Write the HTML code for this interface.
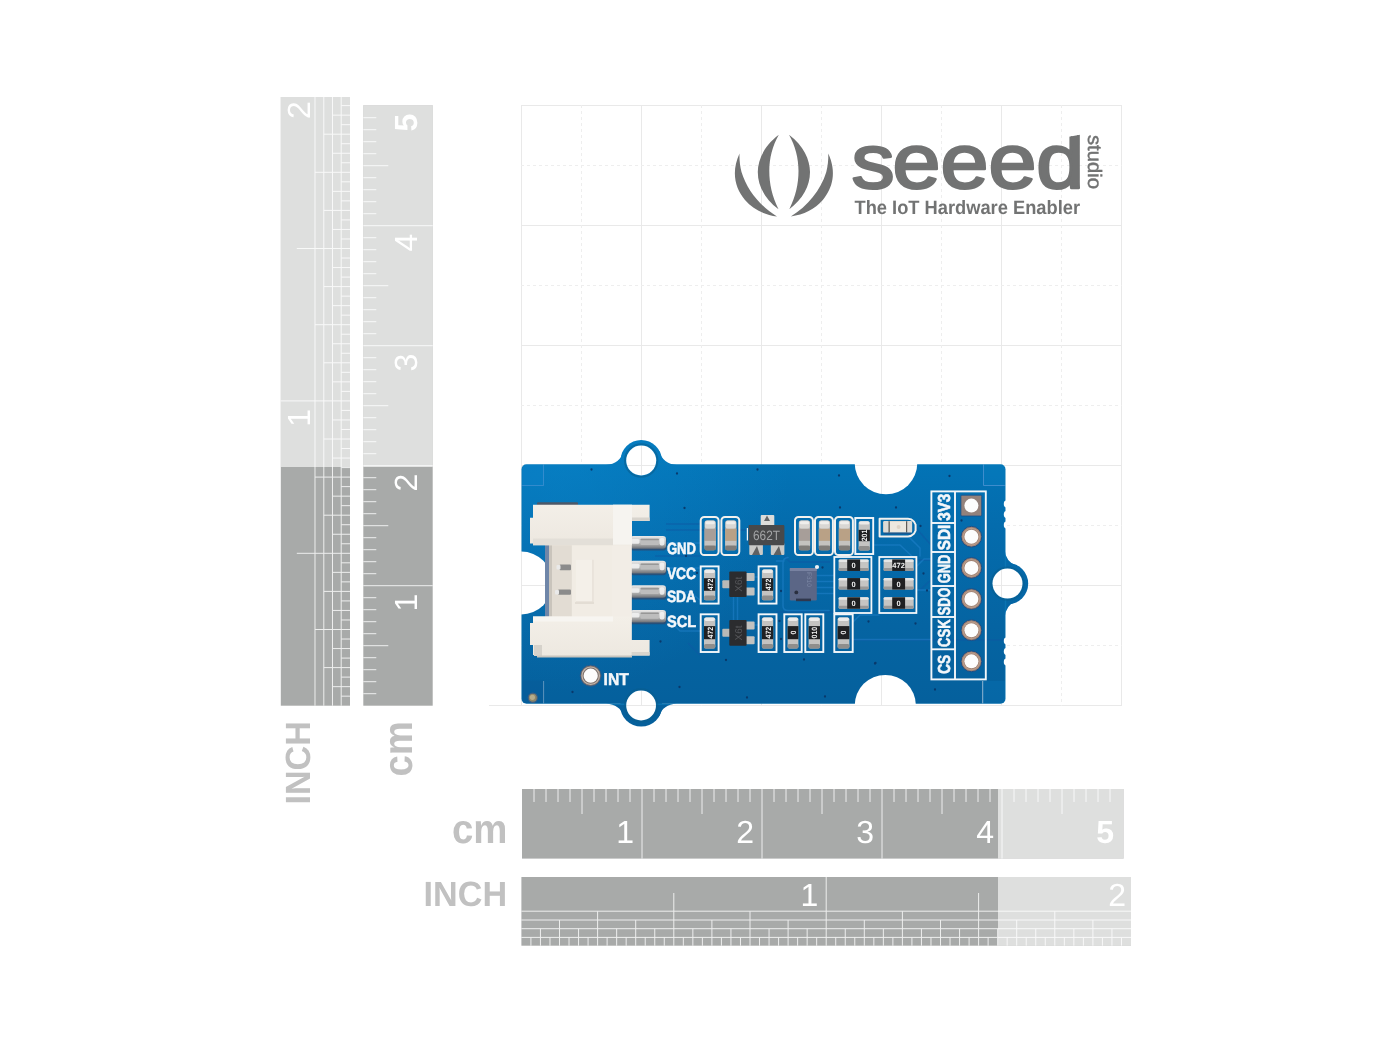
<!DOCTYPE html>
<html lang="en"><head><meta charset="utf-8"><title>Seeed Grove sensor - dimensions</title>
<style>
html,body{margin:0;padding:0;background:#fff;}
body{width:1400px;height:1050px;overflow:hidden;font-family:"Liberation Sans",sans-serif;}
svg{display:block;will-change:transform;}
</style></head><body>
<svg width="1400" height="1050" viewBox="0 0 1400 1050" text-rendering="geometricPrecision">
<rect width="1400" height="1050" fill="#fff"/>
<g id="grid" fill="none">
<line x1="521.5" y1="105" x2="521.5" y2="706" stroke="#e9e9e9" stroke-width="1"/>
<line x1="521" y1="105.5" x2="1122" y2="105.5" stroke="#e9e9e9" stroke-width="1"/>
<line x1="641.5" y1="105" x2="641.5" y2="706" stroke="#e9e9e9" stroke-width="1"/>
<line x1="521" y1="225.5" x2="1122" y2="225.5" stroke="#e9e9e9" stroke-width="1"/>
<line x1="761.5" y1="105" x2="761.5" y2="706" stroke="#e9e9e9" stroke-width="1"/>
<line x1="521" y1="345.5" x2="1122" y2="345.5" stroke="#e9e9e9" stroke-width="1"/>
<line x1="881.5" y1="105" x2="881.5" y2="706" stroke="#e9e9e9" stroke-width="1"/>
<line x1="521" y1="465.5" x2="1122" y2="465.5" stroke="#e9e9e9" stroke-width="1"/>
<line x1="1001.5" y1="105" x2="1001.5" y2="706" stroke="#e9e9e9" stroke-width="1"/>
<line x1="521" y1="585.5" x2="1122" y2="585.5" stroke="#e9e9e9" stroke-width="1"/>
<line x1="1121.5" y1="105" x2="1121.5" y2="706" stroke="#e9e9e9" stroke-width="1"/>
<line x1="489" y1="705.5" x2="1122" y2="705.5" stroke="#e9e9e9" stroke-width="1"/>
<line x1="581.5" y1="105" x2="581.5" y2="706" stroke="#eeeeee" stroke-width="1" stroke-dasharray="3 3"/>
<line x1="521" y1="165.5" x2="1122" y2="165.5" stroke="#eeeeee" stroke-width="1" stroke-dasharray="3 3"/>
<line x1="701.5" y1="105" x2="701.5" y2="706" stroke="#eeeeee" stroke-width="1" stroke-dasharray="3 3"/>
<line x1="521" y1="285.5" x2="1122" y2="285.5" stroke="#eeeeee" stroke-width="1" stroke-dasharray="3 3"/>
<line x1="821.5" y1="105" x2="821.5" y2="706" stroke="#eeeeee" stroke-width="1" stroke-dasharray="3 3"/>
<line x1="521" y1="405.5" x2="1122" y2="405.5" stroke="#eeeeee" stroke-width="1" stroke-dasharray="3 3"/>
<line x1="941.5" y1="105" x2="941.5" y2="706" stroke="#eeeeee" stroke-width="1" stroke-dasharray="3 3"/>
<line x1="521" y1="525.5" x2="1122" y2="525.5" stroke="#eeeeee" stroke-width="1" stroke-dasharray="3 3"/>
<line x1="1061.5" y1="105" x2="1061.5" y2="706" stroke="#eeeeee" stroke-width="1" stroke-dasharray="3 3"/>
<line x1="521" y1="645.5" x2="1122" y2="645.5" stroke="#eeeeee" stroke-width="1" stroke-dasharray="3 3"/>
</g>
<g id="logo" fill="#727373">
<path d="M778.8 134.8 C764 146 757.8 160 757.8 172 C757.8 186 765 199 778.5 209.3 C772 196 769.3 184 769.3 171 C769.3 158 772.5 146 778.8 134.8 Z"/>
<path d="M789 134.8 C803.8 146 810 160 810 172 C810 186 802.8 199 789.3 209.3 C795.8 196 798.5 184 798.5 171 C798.5 158 795.3 146 789 134.8 Z"/>
<path d="M739.5 153.5 C731 172 735 188 745 200 C753 209.5 764 214.5 777 216.5 C760 206 747 190 741.5 172 C740 166 739.3 160 739.5 153.5 Z"/>
<path d="M828.3 153.5 C836.8 172 832.8 188 822.8 200 C814.8 209.5 803.8 214.5 790.8 216.5 C807.8 206 820.8 190 826.3 172 C827.8 166 828.5 160 828.3 153.5 Z"/>
<clipPath id="wm"><path d="M840 120 L1066 120 L1066 137.2 L1083 134.2 L1083 200 L840 200 Z"/></clipPath>
<g clip-path="url(#wm)"><text transform="scale(1.12 1)" x="760.36 796.79 839.64 882.50 925.18" y="188.2" font-family="'Liberation Sans', sans-serif" font-size="77.0" stroke="#727373" stroke-width="2.5" stroke-linejoin="round">seeed</text></g>
<text transform="translate(1087.5 135) rotate(90)" font-family="'Liberation Sans', sans-serif" font-size="19.5" stroke="#727373" stroke-width="0.45" textLength="54" lengthAdjust="spacingAndGlyphs">studio</text>
<text x="854.5" y="214" font-family="'Liberation Sans', sans-serif" font-weight="700" font-size="19.4" textLength="225.5" lengthAdjust="spacingAndGlyphs">The IoT Hardware Enabler</text>
</g>
<g id="rulers">
<g>
<rect x="522" y="789" width="601.5999999999999" height="69.60000000000002" fill="#a8aaa9"/>
<g stroke="#fff" stroke-width="1" opacity="0.8">
<line x1="534.0" y1="789" x2="534.0" y2="802"/>
<line x1="546.0" y1="789" x2="546.0" y2="802"/>
<line x1="558.0" y1="789" x2="558.0" y2="802"/>
<line x1="570.0" y1="789" x2="570.0" y2="802"/>
<line x1="582.0" y1="789" x2="582.0" y2="814"/>
<line x1="594.0" y1="789" x2="594.0" y2="802"/>
<line x1="606.0" y1="789" x2="606.0" y2="802"/>
<line x1="618.0" y1="789" x2="618.0" y2="802"/>
<line x1="630.0" y1="789" x2="630.0" y2="802"/>
<line x1="642.0" y1="789" x2="642.0" y2="858.6"/>
<line x1="654.0" y1="789" x2="654.0" y2="802"/>
<line x1="666.0" y1="789" x2="666.0" y2="802"/>
<line x1="678.0" y1="789" x2="678.0" y2="802"/>
<line x1="690.0" y1="789" x2="690.0" y2="802"/>
<line x1="702.0" y1="789" x2="702.0" y2="814"/>
<line x1="714.0" y1="789" x2="714.0" y2="802"/>
<line x1="726.0" y1="789" x2="726.0" y2="802"/>
<line x1="738.0" y1="789" x2="738.0" y2="802"/>
<line x1="750.0" y1="789" x2="750.0" y2="802"/>
<line x1="762.0" y1="789" x2="762.0" y2="858.6"/>
<line x1="774.0" y1="789" x2="774.0" y2="802"/>
<line x1="786.0" y1="789" x2="786.0" y2="802"/>
<line x1="798.0" y1="789" x2="798.0" y2="802"/>
<line x1="810.0" y1="789" x2="810.0" y2="802"/>
<line x1="822.0" y1="789" x2="822.0" y2="814"/>
<line x1="834.0" y1="789" x2="834.0" y2="802"/>
<line x1="846.0" y1="789" x2="846.0" y2="802"/>
<line x1="858.0" y1="789" x2="858.0" y2="802"/>
<line x1="870.0" y1="789" x2="870.0" y2="802"/>
<line x1="882.0" y1="789" x2="882.0" y2="858.6"/>
<line x1="894.0" y1="789" x2="894.0" y2="802"/>
<line x1="906.0" y1="789" x2="906.0" y2="802"/>
<line x1="918.0" y1="789" x2="918.0" y2="802"/>
<line x1="930.0" y1="789" x2="930.0" y2="802"/>
<line x1="942.0" y1="789" x2="942.0" y2="814"/>
<line x1="954.0" y1="789" x2="954.0" y2="802"/>
<line x1="966.0" y1="789" x2="966.0" y2="802"/>
<line x1="978.0" y1="789" x2="978.0" y2="802"/>
<line x1="990.0" y1="789" x2="990.0" y2="802"/>
<line x1="1002.0" y1="789" x2="1002.0" y2="858.6"/>
<line x1="1014.0" y1="789" x2="1014.0" y2="802"/>
<line x1="1026.0" y1="789" x2="1026.0" y2="802"/>
<line x1="1038.0" y1="789" x2="1038.0" y2="802"/>
<line x1="1050.0" y1="789" x2="1050.0" y2="802"/>
<line x1="1062.0" y1="789" x2="1062.0" y2="814"/>
<line x1="1074.0" y1="789" x2="1074.0" y2="802"/>
<line x1="1086.0" y1="789" x2="1086.0" y2="802"/>
<line x1="1098.0" y1="789" x2="1098.0" y2="802"/>
<line x1="1110.0" y1="789" x2="1110.0" y2="802"/>
</g>
<rect x="998" y="789" width="125.59999999999991" height="69.60000000000002" fill="#fff" opacity="0.62"/>
<text x="634" y="843" text-anchor="end" fill="#fff" font-family="'Liberation Sans', sans-serif" font-size="32" >1</text>
<text x="754" y="843" text-anchor="end" fill="#fff" font-family="'Liberation Sans', sans-serif" font-size="32" >2</text>
<text x="874" y="843" text-anchor="end" fill="#fff" font-family="'Liberation Sans', sans-serif" font-size="32" >3</text>
<text x="994" y="843" text-anchor="end" fill="#fff" font-family="'Liberation Sans', sans-serif" font-size="32" >4</text>
<text x="1114" y="843" text-anchor="end" fill="#fff" font-family="'Liberation Sans', sans-serif" font-size="32" font-weight="700">5</text>
</g><g>
<rect x="521.4" y="877" width="609.6" height="68.70000000000005" fill="#a8aaa9"/>
<g stroke="#fff" stroke-width="1" opacity="0.8">
<line x1="521.4" y1="911.2" x2="1131" y2="911.2"/>
<line x1="521.4" y1="920.0" x2="1131" y2="920.0"/>
<line x1="521.4" y1="928.7" x2="1131" y2="928.7"/>
<line x1="521.4" y1="937.4" x2="1131" y2="937.4"/>
<line x1="530.92" y1="937.4" x2="530.92" y2="945.7"/>
<line x1="540.45" y1="928.7" x2="540.45" y2="945.7"/>
<line x1="549.98" y1="937.4" x2="549.98" y2="945.7"/>
<line x1="559.50" y1="920.0" x2="559.50" y2="945.7"/>
<line x1="569.02" y1="937.4" x2="569.02" y2="945.7"/>
<line x1="578.55" y1="928.7" x2="578.55" y2="945.7"/>
<line x1="588.07" y1="937.4" x2="588.07" y2="945.7"/>
<line x1="597.60" y1="911.2" x2="597.60" y2="945.7"/>
<line x1="607.12" y1="937.4" x2="607.12" y2="945.7"/>
<line x1="616.65" y1="928.7" x2="616.65" y2="945.7"/>
<line x1="626.17" y1="937.4" x2="626.17" y2="945.7"/>
<line x1="635.70" y1="920.0" x2="635.70" y2="945.7"/>
<line x1="645.23" y1="937.4" x2="645.23" y2="945.7"/>
<line x1="654.75" y1="928.7" x2="654.75" y2="945.7"/>
<line x1="664.27" y1="937.4" x2="664.27" y2="945.7"/>
<line x1="673.80" y1="893.0" x2="673.80" y2="945.7"/>
<line x1="683.33" y1="937.4" x2="683.33" y2="945.7"/>
<line x1="692.85" y1="928.7" x2="692.85" y2="945.7"/>
<line x1="702.38" y1="937.4" x2="702.38" y2="945.7"/>
<line x1="711.90" y1="920.0" x2="711.90" y2="945.7"/>
<line x1="721.42" y1="937.4" x2="721.42" y2="945.7"/>
<line x1="730.95" y1="928.7" x2="730.95" y2="945.7"/>
<line x1="740.48" y1="937.4" x2="740.48" y2="945.7"/>
<line x1="750.00" y1="911.2" x2="750.00" y2="945.7"/>
<line x1="759.52" y1="937.4" x2="759.52" y2="945.7"/>
<line x1="769.05" y1="928.7" x2="769.05" y2="945.7"/>
<line x1="778.58" y1="937.4" x2="778.58" y2="945.7"/>
<line x1="788.10" y1="920.0" x2="788.10" y2="945.7"/>
<line x1="797.62" y1="937.4" x2="797.62" y2="945.7"/>
<line x1="807.15" y1="928.7" x2="807.15" y2="945.7"/>
<line x1="816.67" y1="937.4" x2="816.67" y2="945.7"/>
<line x1="826.20" y1="877.0" x2="826.20" y2="945.7"/>
<line x1="835.72" y1="937.4" x2="835.72" y2="945.7"/>
<line x1="845.25" y1="928.7" x2="845.25" y2="945.7"/>
<line x1="854.77" y1="937.4" x2="854.77" y2="945.7"/>
<line x1="864.30" y1="920.0" x2="864.30" y2="945.7"/>
<line x1="873.83" y1="937.4" x2="873.83" y2="945.7"/>
<line x1="883.35" y1="928.7" x2="883.35" y2="945.7"/>
<line x1="892.88" y1="937.4" x2="892.88" y2="945.7"/>
<line x1="902.40" y1="911.2" x2="902.40" y2="945.7"/>
<line x1="911.92" y1="937.4" x2="911.92" y2="945.7"/>
<line x1="921.45" y1="928.7" x2="921.45" y2="945.7"/>
<line x1="930.97" y1="937.4" x2="930.97" y2="945.7"/>
<line x1="940.50" y1="920.0" x2="940.50" y2="945.7"/>
<line x1="950.02" y1="937.4" x2="950.02" y2="945.7"/>
<line x1="959.55" y1="928.7" x2="959.55" y2="945.7"/>
<line x1="969.08" y1="937.4" x2="969.08" y2="945.7"/>
<line x1="978.60" y1="893.0" x2="978.60" y2="945.7"/>
<line x1="988.12" y1="937.4" x2="988.12" y2="945.7"/>
<line x1="997.65" y1="928.7" x2="997.65" y2="945.7"/>
<line x1="1007.17" y1="937.4" x2="1007.17" y2="945.7"/>
<line x1="1016.70" y1="920.0" x2="1016.70" y2="945.7"/>
<line x1="1026.22" y1="937.4" x2="1026.22" y2="945.7"/>
<line x1="1035.75" y1="928.7" x2="1035.75" y2="945.7"/>
<line x1="1045.28" y1="937.4" x2="1045.28" y2="945.7"/>
<line x1="1054.80" y1="911.2" x2="1054.80" y2="945.7"/>
<line x1="1064.33" y1="937.4" x2="1064.33" y2="945.7"/>
<line x1="1073.85" y1="928.7" x2="1073.85" y2="945.7"/>
<line x1="1083.38" y1="937.4" x2="1083.38" y2="945.7"/>
<line x1="1092.90" y1="920.0" x2="1092.90" y2="945.7"/>
<line x1="1102.42" y1="937.4" x2="1102.42" y2="945.7"/>
<line x1="1111.95" y1="928.7" x2="1111.95" y2="945.7"/>
<line x1="1121.47" y1="937.4" x2="1121.47" y2="945.7"/>
</g>
<rect x="998" y="877" width="133" height="68.70000000000005" fill="#fff" opacity="0.62"/>
<text x="818.2" y="906" text-anchor="end" fill="#fff" font-family="'Liberation Sans', sans-serif" font-size="32">1</text>
<text x="1126.0" y="906" text-anchor="end" fill="#fff" font-family="'Liberation Sans', sans-serif" font-size="32">2</text>
</g>
<g transform="translate(363.3 705.7) rotate(-90)">
<rect x="0" y="0" width="600.5" height="69.4" fill="#a8aaa9"/>
<g stroke="#fff" stroke-width="1" opacity="0.8">
<line x1="12.0" y1="0" x2="12.0" y2="13"/>
<line x1="24.0" y1="0" x2="24.0" y2="13"/>
<line x1="36.0" y1="0" x2="36.0" y2="13"/>
<line x1="48.0" y1="0" x2="48.0" y2="13"/>
<line x1="60.0" y1="0" x2="60.0" y2="25"/>
<line x1="72.0" y1="0" x2="72.0" y2="13"/>
<line x1="84.0" y1="0" x2="84.0" y2="13"/>
<line x1="96.0" y1="0" x2="96.0" y2="13"/>
<line x1="108.0" y1="0" x2="108.0" y2="13"/>
<line x1="120.0" y1="0" x2="120.0" y2="69.4"/>
<line x1="132.0" y1="0" x2="132.0" y2="13"/>
<line x1="144.0" y1="0" x2="144.0" y2="13"/>
<line x1="156.0" y1="0" x2="156.0" y2="13"/>
<line x1="168.0" y1="0" x2="168.0" y2="13"/>
<line x1="180.0" y1="0" x2="180.0" y2="25"/>
<line x1="192.0" y1="0" x2="192.0" y2="13"/>
<line x1="204.0" y1="0" x2="204.0" y2="13"/>
<line x1="216.0" y1="0" x2="216.0" y2="13"/>
<line x1="228.0" y1="0" x2="228.0" y2="13"/>
<line x1="240.0" y1="0" x2="240.0" y2="69.4"/>
<line x1="252.0" y1="0" x2="252.0" y2="13"/>
<line x1="264.0" y1="0" x2="264.0" y2="13"/>
<line x1="276.0" y1="0" x2="276.0" y2="13"/>
<line x1="288.0" y1="0" x2="288.0" y2="13"/>
<line x1="300.0" y1="0" x2="300.0" y2="25"/>
<line x1="312.0" y1="0" x2="312.0" y2="13"/>
<line x1="324.0" y1="0" x2="324.0" y2="13"/>
<line x1="336.0" y1="0" x2="336.0" y2="13"/>
<line x1="348.0" y1="0" x2="348.0" y2="13"/>
<line x1="360.0" y1="0" x2="360.0" y2="69.4"/>
<line x1="372.0" y1="0" x2="372.0" y2="13"/>
<line x1="384.0" y1="0" x2="384.0" y2="13"/>
<line x1="396.0" y1="0" x2="396.0" y2="13"/>
<line x1="408.0" y1="0" x2="408.0" y2="13"/>
<line x1="420.0" y1="0" x2="420.0" y2="25"/>
<line x1="432.0" y1="0" x2="432.0" y2="13"/>
<line x1="444.0" y1="0" x2="444.0" y2="13"/>
<line x1="456.0" y1="0" x2="456.0" y2="13"/>
<line x1="468.0" y1="0" x2="468.0" y2="13"/>
<line x1="480.0" y1="0" x2="480.0" y2="69.4"/>
<line x1="492.0" y1="0" x2="492.0" y2="13"/>
<line x1="504.0" y1="0" x2="504.0" y2="13"/>
<line x1="516.0" y1="0" x2="516.0" y2="13"/>
<line x1="528.0" y1="0" x2="528.0" y2="13"/>
<line x1="540.0" y1="0" x2="540.0" y2="25"/>
<line x1="552.0" y1="0" x2="552.0" y2="13"/>
<line x1="564.0" y1="0" x2="564.0" y2="13"/>
<line x1="576.0" y1="0" x2="576.0" y2="13"/>
<line x1="588.0" y1="0" x2="588.0" y2="13"/>
</g>
<rect x="238.7" y="0" width="361.8" height="69.4" fill="#fff" opacity="0.62"/>
<text x="112" y="54" text-anchor="end" fill="#fff" font-family="'Liberation Sans', sans-serif" font-size="32" >1</text>
<text x="232" y="54" text-anchor="end" fill="#fff" font-family="'Liberation Sans', sans-serif" font-size="32" >2</text>
<text x="352" y="54" text-anchor="end" fill="#fff" font-family="'Liberation Sans', sans-serif" font-size="32" >3</text>
<text x="472" y="54" text-anchor="end" fill="#fff" font-family="'Liberation Sans', sans-serif" font-size="32" >4</text>
<text x="592" y="54" text-anchor="end" fill="#fff" font-family="'Liberation Sans', sans-serif" font-size="32" font-weight="700">5</text>
</g>
<g transform="translate(280.8 705.7) rotate(-90)">
<rect x="0" y="0" width="608.7" height="69.2" fill="#a8aaa9"/>
<g stroke="#fff" stroke-width="1" opacity="0.8">
<line x1="0" y1="34.2" x2="608.7" y2="34.2"/>
<line x1="0" y1="43.0" x2="608.7" y2="43.0"/>
<line x1="0" y1="51.7" x2="608.7" y2="51.7"/>
<line x1="0" y1="60.4" x2="608.7" y2="60.4"/>
<line x1="9.53" y1="60.4" x2="9.53" y2="69.2"/>
<line x1="19.05" y1="51.7" x2="19.05" y2="69.2"/>
<line x1="28.58" y1="60.4" x2="28.58" y2="69.2"/>
<line x1="38.10" y1="43.0" x2="38.10" y2="69.2"/>
<line x1="47.62" y1="60.4" x2="47.62" y2="69.2"/>
<line x1="57.15" y1="51.7" x2="57.15" y2="69.2"/>
<line x1="66.67" y1="60.4" x2="66.67" y2="69.2"/>
<line x1="76.20" y1="34.2" x2="76.20" y2="69.2"/>
<line x1="85.73" y1="60.4" x2="85.73" y2="69.2"/>
<line x1="95.25" y1="51.7" x2="95.25" y2="69.2"/>
<line x1="104.78" y1="60.4" x2="104.78" y2="69.2"/>
<line x1="114.30" y1="43.0" x2="114.30" y2="69.2"/>
<line x1="123.83" y1="60.4" x2="123.83" y2="69.2"/>
<line x1="133.35" y1="51.7" x2="133.35" y2="69.2"/>
<line x1="142.88" y1="60.4" x2="142.88" y2="69.2"/>
<line x1="152.40" y1="16.0" x2="152.40" y2="69.2"/>
<line x1="161.93" y1="60.4" x2="161.93" y2="69.2"/>
<line x1="171.45" y1="51.7" x2="171.45" y2="69.2"/>
<line x1="180.97" y1="60.4" x2="180.97" y2="69.2"/>
<line x1="190.50" y1="43.0" x2="190.50" y2="69.2"/>
<line x1="200.03" y1="60.4" x2="200.03" y2="69.2"/>
<line x1="209.55" y1="51.7" x2="209.55" y2="69.2"/>
<line x1="219.08" y1="60.4" x2="219.08" y2="69.2"/>
<line x1="228.60" y1="34.2" x2="228.60" y2="69.2"/>
<line x1="238.12" y1="60.4" x2="238.12" y2="69.2"/>
<line x1="247.65" y1="51.7" x2="247.65" y2="69.2"/>
<line x1="257.18" y1="60.4" x2="257.18" y2="69.2"/>
<line x1="266.70" y1="43.0" x2="266.70" y2="69.2"/>
<line x1="276.23" y1="60.4" x2="276.23" y2="69.2"/>
<line x1="285.75" y1="51.7" x2="285.75" y2="69.2"/>
<line x1="295.28" y1="60.4" x2="295.28" y2="69.2"/>
<line x1="304.80" y1="0.0" x2="304.80" y2="69.2"/>
<line x1="314.32" y1="60.4" x2="314.32" y2="69.2"/>
<line x1="323.85" y1="51.7" x2="323.85" y2="69.2"/>
<line x1="333.38" y1="60.4" x2="333.38" y2="69.2"/>
<line x1="342.90" y1="43.0" x2="342.90" y2="69.2"/>
<line x1="352.43" y1="60.4" x2="352.43" y2="69.2"/>
<line x1="361.95" y1="51.7" x2="361.95" y2="69.2"/>
<line x1="371.48" y1="60.4" x2="371.48" y2="69.2"/>
<line x1="381.00" y1="34.2" x2="381.00" y2="69.2"/>
<line x1="390.53" y1="60.4" x2="390.53" y2="69.2"/>
<line x1="400.05" y1="51.7" x2="400.05" y2="69.2"/>
<line x1="409.57" y1="60.4" x2="409.57" y2="69.2"/>
<line x1="419.10" y1="43.0" x2="419.10" y2="69.2"/>
<line x1="428.62" y1="60.4" x2="428.62" y2="69.2"/>
<line x1="438.15" y1="51.7" x2="438.15" y2="69.2"/>
<line x1="447.68" y1="60.4" x2="447.68" y2="69.2"/>
<line x1="457.20" y1="16.0" x2="457.20" y2="69.2"/>
<line x1="466.73" y1="60.4" x2="466.73" y2="69.2"/>
<line x1="476.25" y1="51.7" x2="476.25" y2="69.2"/>
<line x1="485.78" y1="60.4" x2="485.78" y2="69.2"/>
<line x1="495.30" y1="43.0" x2="495.30" y2="69.2"/>
<line x1="504.83" y1="60.4" x2="504.83" y2="69.2"/>
<line x1="514.35" y1="51.7" x2="514.35" y2="69.2"/>
<line x1="523.88" y1="60.4" x2="523.88" y2="69.2"/>
<line x1="533.40" y1="34.2" x2="533.40" y2="69.2"/>
<line x1="542.93" y1="60.4" x2="542.93" y2="69.2"/>
<line x1="552.45" y1="51.7" x2="552.45" y2="69.2"/>
<line x1="561.98" y1="60.4" x2="561.98" y2="69.2"/>
<line x1="571.50" y1="43.0" x2="571.50" y2="69.2"/>
<line x1="581.02" y1="60.4" x2="581.02" y2="69.2"/>
<line x1="590.55" y1="51.7" x2="590.55" y2="69.2"/>
<line x1="600.08" y1="60.4" x2="600.08" y2="69.2"/>
</g>
<rect x="238.7" y="0" width="370.00000000000006" height="69.2" fill="#fff" opacity="0.62"/>
<text x="296.8" y="29" text-anchor="end" fill="#fff" font-family="'Liberation Sans', sans-serif" font-size="32">1</text>
<text x="604.6" y="29" text-anchor="end" fill="#fff" font-family="'Liberation Sans', sans-serif" font-size="32">2</text>
</g>
<text x="452" y="843" fill="#c1c1c1" font-family="'Liberation Sans', sans-serif" font-weight="700" font-size="41" textLength="55.5" lengthAdjust="spacingAndGlyphs">cm</text>
<text x="423.6" y="906.3" fill="#c1c1c1" font-family="'Liberation Sans', sans-serif" font-weight="700" font-size="35" textLength="83.5" lengthAdjust="spacingAndGlyphs">INCH</text>
<text transform="translate(411.8 776.5) rotate(-90)" fill="#c1c1c1" font-family="'Liberation Sans', sans-serif" font-weight="700" font-size="41" textLength="55.5" lengthAdjust="spacingAndGlyphs">cm</text>
<text transform="translate(310.3 804.6) rotate(-90)" fill="#c1c1c1" font-family="'Liberation Sans', sans-serif" font-weight="700" font-size="35" textLength="83.5" lengthAdjust="spacingAndGlyphs">INCH</text>
</g>
<defs>
<linearGradient id="pcb" gradientUnits="userSpaceOnUse" x1="0" y1="440" x2="0" y2="726"><stop offset="0" stop-color="#0276b9"/><stop offset="0.3" stop-color="#046cad"/><stop offset="0.65" stop-color="#0564a2"/><stop offset="1" stop-color="#055f9b"/></linearGradient>
<radialGradient id="pcbhl" gradientUnits="userSpaceOnUse" cx="560" cy="462" r="230"><stop offset="0" stop-color="#0a86cc" stop-opacity="0.55"/><stop offset="1" stop-color="#0a86cc" stop-opacity="0"/></radialGradient>
<linearGradient id="pin" x1="0" y1="0" x2="0" y2="1"><stop offset="0" stop-color="#e9e9e9"/><stop offset="0.25" stop-color="#d2d2d2"/><stop offset="0.7" stop-color="#a5a5a5"/><stop offset="1" stop-color="#6b6f76"/></linearGradient>
<linearGradient id="conn" x1="0" y1="0" x2="0" y2="1"><stop offset="0" stop-color="#f3efe8"/><stop offset="1" stop-color="#ede8e0"/></linearGradient>
<mask id="bm" maskUnits="userSpaceOnUse" x="500" y="430" width="560" height="310">
<rect x="521.5" y="464.2" width="484" height="239.6" rx="5" fill="#fff"/>
<circle cx="641.2" cy="460.5" r="20.6" fill="#fff"/>
<path d="M606 465 Q620 464 623.5 451 L659.3 451 Q662.8 464 676.8 465 Z" fill="#fff"/>
<circle cx="641.2" cy="705.6" r="21" fill="#fff"/>
<path d="M606 703.5 Q620 704.5 623.5 716 L659.3 716 Q662.8 704.5 676.8 703.5 Z" fill="#fff"/>
<circle cx="1007.6" cy="583.6" r="20.6" fill="#fff"/>
<path d="M1004.5 549 Q1005.5 562 1017 566 L1017 601 Q1005.5 605 1004.5 618 Z" fill="#fff"/>
<circle cx="641.2" cy="460.5" r="15" fill="#000"/>
<circle cx="641.1" cy="705.5" r="14.9" fill="#000"/>
<circle cx="1007.5" cy="583.6" r="15" fill="#000"/>
<circle cx="886" cy="463" r="31.3" fill="#000"/>
<circle cx="885.3" cy="705.5" r="30.6" fill="#000"/>
<circle cx="521.2" cy="583" r="31.4" fill="#000"/>
<ellipse cx="1006.4" cy="504" rx="2.6" ry="3.4" fill="#000"/>
<ellipse cx="1006.4" cy="514.5" rx="2.6" ry="3.4" fill="#000"/>
<ellipse cx="1006.4" cy="525" rx="2.6" ry="3.4" fill="#000"/>
<ellipse cx="1006.4" cy="641" rx="2.6" ry="3.4" fill="#000"/>
<ellipse cx="1006.4" cy="651.5" rx="2.6" ry="3.4" fill="#000"/>
<ellipse cx="1006.4" cy="662" rx="2.6" ry="3.4" fill="#000"/>
</mask>
</defs>
<g id="board">
<g mask="url(#bm)">
<rect x="500" y="430" width="560" height="310" fill="url(#pcb)"/>
<rect x="500" y="430" width="560" height="310" fill="url(#pcbhl)"/>
<path d="M521 485.5 H543.5 V464" fill="none" stroke="#4d93d3" stroke-width="1" opacity="0.8"/>
<rect x="521" y="464" width="22.5" height="21.5" fill="#0a80c8" opacity="0.45"/>
<rect x="521" y="680.5" width="22.5" height="24" fill="#085a98" opacity="0.5"/>
<rect x="983.5" y="464" width="22.5" height="21.5" fill="#0a80c0" opacity="0.4"/>
<path d="M983.5 464 V485.5 H1006" fill="none" stroke="#4d93d3" stroke-width="1" opacity="0.8"/>
<rect x="982.5" y="681" width="23" height="23.5" fill="#0a76b8" opacity="0.35"/>
<line x1="982.7" y1="681" x2="982.7" y2="703.5" stroke="#c6d4e4" stroke-width="0.9" opacity="0.8"/>
<line x1="543.6" y1="681" x2="543.6" y2="703.5" stroke="#c6d4e4" stroke-width="0.9" opacity="0.5"/>
<g fill="none" stroke="#0f5aa4" stroke-width="1.6" opacity="0.55">
<path d="M666 524 H700 M666 530 H746 M655 556 H700 M784 556 L790 562 H830 M776 612 H834 M700 655 L688 643 M850 640 H1006 M920 590 L931 580 M917 560 H931 M915 527 L931 545"/>
</g>
<g fill="none" stroke="#2b8ad6" stroke-width="1.5" opacity="0.42" stroke-linecap="round" stroke-linejoin="round">
<path d="M816.5 575.5 H834 M816.5 581.5 H834 M816.5 587.5 H834 M816.5 593.5 H834 M788 557.5 Q783 558 783 563 V606 Q783 610.5 788 610.5 H829 M776.5 561 H784 M853 639.5 H931 M853 622 L860 615 H879 M917 590 H931 M917 566 L924 559 H931 M909 537 L920 548 V556 M873 545 H900 L916 560 M746.6 577 H758 M746.6 625 H758 M737.5 597 V620 M733.5 597 V620 M666 543 H700 M666 568 H700 M666 617 L680 631 H700 M666 592 H690 L700 600"/>
</g>
<g fill="#0a3566" opacity="0.9">
<circle cx="591.5" cy="469.5" r="1.15"/>
<circle cx="677" cy="473.5" r="1.15"/>
<circle cx="684.5" cy="508" r="1.15"/>
<circle cx="686" cy="556" r="1.15"/>
<circle cx="697" cy="573" r="1.15"/>
<circle cx="757.5" cy="469.5" r="1.15"/>
<circle cx="839" cy="475.5" r="1.15"/>
<circle cx="840" cy="507.5" r="1.15"/>
<circle cx="822.5" cy="567.5" r="1.15"/>
<circle cx="781" cy="591" r="1.15"/>
<circle cx="779.5" cy="621" r="1.15"/>
<circle cx="781" cy="639" r="1.15"/>
<circle cx="726" cy="660" r="1.15"/>
<circle cx="804" cy="659.5" r="1.15"/>
<circle cx="875" cy="663.5" r="1.15"/>
<circle cx="747" cy="697.5" r="1.15"/>
<circle cx="825" cy="696.5" r="1.15"/>
<circle cx="572.5" cy="692" r="1.15"/>
<circle cx="660.5" cy="641.5" r="1.15"/>
<circle cx="679.5" cy="687" r="1.15"/>
<circle cx="949.5" cy="476" r="1.15"/>
<circle cx="896" cy="507.5" r="1.15"/>
<circle cx="920.5" cy="526" r="1.15"/>
<circle cx="923.5" cy="573.5" r="1.15"/>
<circle cx="927" cy="590.5" r="1.15"/>
<circle cx="868.5" cy="621.5" r="1.15"/>
<circle cx="915.5" cy="623.5" r="1.15"/>
<circle cx="875.5" cy="663" r="1.15"/>
<circle cx="935" cy="689.5" r="1.15"/>
<circle cx="961.5" cy="520.5" r="1.15"/>
</g>
<rect x="521.5" y="464" width="484" height="240.3" rx="5" fill="none" stroke="#0d7ab8" stroke-width="1.5" opacity="0.7"/>
<circle cx="641.2" cy="460.5" r="16.2" fill="none" stroke="#0a5c8c" stroke-width="2" opacity="0.55"/>
<circle cx="641.1" cy="705.5" r="16.2" fill="none" stroke="#0a5c8c" stroke-width="2" opacity="0.55"/>
<circle cx="1007.5" cy="583.6" r="16.2" fill="none" stroke="#0a5c8c" stroke-width="2" opacity="0.55"/>
</g>
<circle cx="532.8" cy="697.8" r="4.6" fill="#8f8668" stroke="#3b5f86" stroke-width="1.2"/>
<circle cx="532.4" cy="697.3" r="2.6" fill="#b5ac8c"/>
<circle cx="590.7" cy="675.7" r="10.6" fill="#7d706a" stroke="#1f5a92" stroke-width="1"/>
<circle cx="590.7" cy="675.7" r="8.7" fill="none" stroke="#c4b8b0" stroke-width="1.2"/>
<circle cx="590.7" cy="675.7" r="7.1" fill="#fdfdfd"/>
<text x="603.6" y="684.5" fill="#f4f7fa" stroke="#f4f7fa" stroke-width="0.5" font-family="'Liberation Sans', sans-serif" font-weight="700" font-size="17.2" textLength="25.2" lengthAdjust="spacingAndGlyphs">INT</text>
<g id="conn">
<rect x="545" y="543" width="8" height="75" fill="#6f86a8"/>
<rect x="537" y="502.2" width="41" height="3" rx="1" fill="#6b4a45" opacity="0.7"/>
<rect x="630" y="536.9" width="36.6" height="13.6" rx="3.4" fill="#2f4a6e" opacity="0.8"/>
<rect x="630" y="536.1" width="36" height="12.6" rx="3.2" fill="url(#pin)"/>
<rect x="640.5" y="538.7" width="18.5" height="6.2" rx="1.2" fill="#bdbdbd"/>
<rect x="640.5" y="538.7" width="18.5" height="1.6" rx="0.8" fill="#8d8d8d" opacity="0.8"/>
<rect x="631" y="539.1" width="8.5" height="4.6" rx="1.5" fill="#f1f1f1" opacity="0.9"/>
<rect x="659.5" y="538.1" width="5" height="7.5" rx="2" fill="#f4f4f4" opacity="0.85"/>
<rect x="630" y="561.5999999999999" width="36.6" height="13.6" rx="3.4" fill="#2f4a6e" opacity="0.8"/>
<rect x="630" y="560.8" width="36" height="12.6" rx="3.2" fill="url(#pin)"/>
<rect x="640.5" y="563.4" width="18.5" height="6.2" rx="1.2" fill="#bdbdbd"/>
<rect x="640.5" y="563.4" width="18.5" height="1.6" rx="0.8" fill="#8d8d8d" opacity="0.8"/>
<rect x="631" y="563.8" width="8.5" height="4.6" rx="1.5" fill="#f1f1f1" opacity="0.9"/>
<rect x="659.5" y="562.8" width="5" height="7.5" rx="2" fill="#f4f4f4" opacity="0.85"/>
<rect x="630" y="586.0" width="36.6" height="13.6" rx="3.4" fill="#2f4a6e" opacity="0.8"/>
<rect x="630" y="585.2" width="36" height="12.6" rx="3.2" fill="url(#pin)"/>
<rect x="640.5" y="587.8000000000001" width="18.5" height="6.2" rx="1.2" fill="#bdbdbd"/>
<rect x="640.5" y="587.8000000000001" width="18.5" height="1.6" rx="0.8" fill="#8d8d8d" opacity="0.8"/>
<rect x="631" y="588.2" width="8.5" height="4.6" rx="1.5" fill="#f1f1f1" opacity="0.9"/>
<rect x="659.5" y="587.2" width="5" height="7.5" rx="2" fill="#f4f4f4" opacity="0.85"/>
<rect x="630" y="610.6999999999999" width="36.6" height="13.6" rx="3.4" fill="#2f4a6e" opacity="0.8"/>
<rect x="630" y="609.9" width="36" height="12.6" rx="3.2" fill="url(#pin)"/>
<rect x="640.5" y="612.5" width="18.5" height="6.2" rx="1.2" fill="#bdbdbd"/>
<rect x="640.5" y="612.5" width="18.5" height="1.6" rx="0.8" fill="#8d8d8d" opacity="0.8"/>
<rect x="631" y="612.9" width="8.5" height="4.6" rx="1.5" fill="#f1f1f1" opacity="0.9"/>
<rect x="659.5" y="611.9" width="5" height="7.5" rx="2" fill="#f4f4f4" opacity="0.85"/>
<rect x="549" y="543" width="24" height="74" fill="#e2dcd3"/>
<rect x="549" y="543" width="3" height="74" fill="#c9c4bc"/>
<rect x="559.5" y="564.6" width="11.5" height="5.6" rx="1" fill="#8b8b8b"/>
<rect x="558" y="589.6" width="13" height="5.2" rx="1" fill="#8b8b8b"/>
<rect x="556.5" y="565" width="4" height="4.6" rx="1" fill="#e9e9e9"/>
<rect x="555" y="590" width="4" height="4.4" rx="1" fill="#e9e9e9"/>
<rect x="571.8" y="540" width="59.8" height="80" fill="#f1ece4"/>
<rect x="612" y="520" width="19.6" height="122" fill="#f2ede6"/>
<rect x="575.9" y="559.8" width="17" height="42.2" fill="#f4f0e9"/>
<path d="M575.9 602 H592.9 V559.8" fill="none" stroke="#e6e0d7" stroke-width="1.4"/>
<rect x="575" y="602" width="19" height="2" fill="#e3ddd4"/>
<path d="M533 504.7 H649.6 V520.9 H631.6 V545.2 H533 V543.6 H530 V517.7 H533 Z" fill="url(#conn)"/>
<rect x="533" y="538.5" width="80" height="6.7" fill="#e3dfd8"/>
<rect x="631.6" y="517.5" width="18" height="3.4" fill="#d8d4cd"/>
<rect x="613" y="504.7" width="19" height="40" fill="#f6f4f0"/>
<path d="M533 616.5 H631.6 V640 H649.6 V655.5 H631.6 V657 H537 V655 H533 V645 H530 V623 H533 Z" fill="url(#conn)"/>
<rect x="533" y="616.5" width="80" height="5" fill="#f7f5f1"/>
<rect x="631.6" y="652" width="18" height="3.5" fill="#d8d4cd"/>
<rect x="534" y="645" width="8" height="11" fill="#d6d2cb"/>
<rect x="537" y="655.5" width="95" height="2" fill="#c9c5be"/>
</g>
<text x="666.9" y="554.1" fill="#f4f7fa" stroke="#f4f7fa" stroke-width="0.55" font-family="'Liberation Sans', sans-serif" font-weight="700" font-size="16.3" textLength="29.2" lengthAdjust="spacingAndGlyphs">GND</text>
<text x="666.9" y="578.8" fill="#f4f7fa" stroke="#f4f7fa" stroke-width="0.55" font-family="'Liberation Sans', sans-serif" font-weight="700" font-size="16.3" textLength="29.2" lengthAdjust="spacingAndGlyphs">VCC</text>
<text x="666.9" y="602.1" fill="#f4f7fa" stroke="#f4f7fa" stroke-width="0.55" font-family="'Liberation Sans', sans-serif" font-weight="700" font-size="16.3" textLength="29.2" lengthAdjust="spacingAndGlyphs">SDA</text>
<text x="666.9" y="627.1" fill="#f4f7fa" stroke="#f4f7fa" stroke-width="0.55" font-family="'Liberation Sans', sans-serif" font-weight="700" font-size="16.3" textLength="29.2" lengthAdjust="spacingAndGlyphs">SCL</text>
<rect x="700.7" y="517" width="17.9" height="38" rx="3.6" fill="none" stroke="#f3f1ee" stroke-width="2"/>
<rect x="704.5" y="520.6" width="11.299999999999999" height="29.6" rx="2.2" fill="#b7b4b1"/>
<rect x="704.9" y="520.6" width="10.499999999999998" height="8.2" rx="2.2" fill="#d9d7d4"/>
<rect x="705.5" y="521.2" width="9.299999999999999" height="3" rx="1.5" fill="#efeeec"/>
<rect x="704.5" y="545" width="11.299999999999999" height="5.4" rx="2" fill="#7f7c79"/>
<rect x="704.5" y="540.5" width="11.299999999999999" height="5" fill="#c4c2bf"/>
<rect x="704.5" y="528.8" width="11.299999999999999" height="12" fill="#a79e99"/>
<rect x="721.4" y="517" width="17.9" height="38" rx="3.6" fill="none" stroke="#f3f1ee" stroke-width="2"/>
<rect x="725.1999999999999" y="520.6" width="11.299999999999999" height="29.6" rx="2.2" fill="#b7b4b1"/>
<rect x="725.5999999999999" y="520.6" width="10.499999999999998" height="8.2" rx="2.2" fill="#d9d7d4"/>
<rect x="726.1999999999999" y="521.2" width="9.299999999999999" height="3" rx="1.5" fill="#efeeec"/>
<rect x="725.1999999999999" y="545" width="11.299999999999999" height="5.4" rx="2" fill="#7f7c79"/>
<rect x="725.1999999999999" y="540.5" width="11.299999999999999" height="5" fill="#c4c2bf"/>
<rect x="725.1999999999999" y="528.8" width="11.299999999999999" height="12" fill="#b9a186"/>
<line x1="747.4" y1="528" x2="747.4" y2="540.5" stroke="#f4f7fa" stroke-width="1.2"/>
<rect x="760.7" y="515" width="13.6" height="12" rx="1" fill="#dcdcda"/>
<rect x="749.3" y="543" width="13.6" height="12" rx="1" fill="#c9c9c7"/>
<rect x="770.8" y="543" width="13.6" height="12" rx="1" fill="#c9c9c7"/>
<path d="M752 555 L757 546 L760 555 Z M773.5 555 L779 546 L781.5 555 Z M764 521 L767 515.5 L770 521 Z" fill="#3c3d40" opacity="0.75"/>
<rect x="748.6" y="525" width="35.8" height="20.3" rx="1" fill="#48494b"/>
<text x="766.5" y="540.2" text-anchor="middle" fill="#a3a4a6" font-family="'Liberation Sans', sans-serif" font-size="13.5" textLength="27" lengthAdjust="spacingAndGlyphs">662T</text>
<rect x="795" y="517" width="17.9" height="38" rx="3.6" fill="none" stroke="#f3f1ee" stroke-width="2"/>
<rect x="798.8" y="520.6" width="11.299999999999999" height="29.6" rx="2.2" fill="#b7b4b1"/>
<rect x="799.1999999999999" y="520.6" width="10.499999999999998" height="8.2" rx="2.2" fill="#d9d7d4"/>
<rect x="799.8" y="521.2" width="9.299999999999999" height="3" rx="1.5" fill="#efeeec"/>
<rect x="798.8" y="545" width="11.299999999999999" height="5.4" rx="2" fill="#7f7c79"/>
<rect x="798.8" y="540.5" width="11.299999999999999" height="5" fill="#c4c2bf"/>
<rect x="798.8" y="528.8" width="11.299999999999999" height="12" fill="#a79e99"/>
<rect x="815" y="517" width="17.9" height="38" rx="3.6" fill="none" stroke="#f3f1ee" stroke-width="2"/>
<rect x="818.8" y="520.6" width="11.299999999999999" height="29.6" rx="2.2" fill="#b7b4b1"/>
<rect x="819.1999999999999" y="520.6" width="10.499999999999998" height="8.2" rx="2.2" fill="#d9d7d4"/>
<rect x="819.8" y="521.2" width="9.299999999999999" height="3" rx="1.5" fill="#efeeec"/>
<rect x="818.8" y="545" width="11.299999999999999" height="5.4" rx="2" fill="#7f7c79"/>
<rect x="818.8" y="540.5" width="11.299999999999999" height="5" fill="#c4c2bf"/>
<rect x="818.8" y="528.8" width="11.299999999999999" height="12" fill="#b9a186"/>
<rect x="835" y="517" width="17.9" height="38" rx="3.6" fill="none" stroke="#f3f1ee" stroke-width="2"/>
<rect x="838.8" y="520.6" width="11.299999999999999" height="29.6" rx="2.2" fill="#b7b4b1"/>
<rect x="839.1999999999999" y="520.6" width="10.499999999999998" height="8.2" rx="2.2" fill="#d9d7d4"/>
<rect x="839.8" y="521.2" width="9.299999999999999" height="3" rx="1.5" fill="#efeeec"/>
<rect x="838.8" y="545" width="11.299999999999999" height="5.4" rx="2" fill="#7f7c79"/>
<rect x="838.8" y="540.5" width="11.299999999999999" height="5" fill="#c4c2bf"/>
<rect x="838.8" y="528.8" width="11.299999999999999" height="12" fill="#b9a186"/>
<rect x="855.3" y="518" width="17.9" height="36" fill="none" stroke="#f4f7fa" stroke-width="1.9"/>
<rect x="858.5999999999999" y="521.2" width="11.299999999999999" height="29.4" rx="1.8" fill="#c4c3c1"/>
<rect x="859.0999999999999" y="521.2" width="10.299999999999999" height="3.4" rx="1.6" fill="#ecebea"/>
<rect x="858.5999999999999" y="546" width="11.299999999999999" height="4.6" rx="1.6" fill="#8f8e8c"/>
<rect x="858.5999999999999" y="529.8" width="11.299999999999999" height="11.399999999999999" fill="#202123"/>
<text transform="translate(867.1 535.5) rotate(-90)" text-anchor="middle" fill="#f4f4f4" font-family="'Liberation Sans', sans-serif" font-weight="700" font-size="7.6" textLength="11.7" lengthAdjust="spacingAndGlyphs">201</text>
<path d="M879.6 518.8 H908 Q911.5 518.8 914 521.6 L915.6 524.6 V530.6 L914 533.6 Q911.5 536.4 908 536.4 H879.6 Z" fill="none" stroke="#f3f1ee" stroke-width="2" stroke-linejoin="round"/>
<rect x="883" y="521" width="29.2" height="11.6" rx="1.6" fill="#b9b6b0"/>
<rect x="883.4" y="521" width="5" height="11.6" rx="1.2" fill="#dddbd6"/>
<rect x="907" y="521" width="5" height="11.6" rx="1.2" fill="#dddbd6"/>
<rect x="889.6" y="521.3" width="16.6" height="11" fill="#ece8df"/>
<rect x="888.6" y="521.3" width="1.2" height="11" fill="#5f5c58"/>
<rect x="906" y="521.3" width="1.2" height="11" fill="#5f5c58"/>
<circle cx="898.6" cy="527" r="2" fill="#ddd3c6"/>
<rect x="884" y="532.6" width="27" height="1.6" fill="#274f80" opacity="0.7"/>
<rect x="700.7" y="566.4" width="17.9" height="37.200000000000045" fill="none" stroke="#f4f7fa" stroke-width="1.9"/>
<rect x="704.0" y="569.6" width="11.299999999999999" height="30.600000000000044" rx="1.8" fill="#c4c3c1"/>
<rect x="704.5" y="569.6" width="10.299999999999999" height="3.4" rx="1.6" fill="#ecebea"/>
<rect x="704.0" y="595.6" width="11.299999999999999" height="4.6" rx="1.6" fill="#8f8e8c"/>
<rect x="704.0" y="578.1999999999999" width="11.299999999999999" height="12.600000000000044" fill="#202123"/>
<text transform="translate(712.6 584.5) rotate(-90)" text-anchor="middle" fill="#f4f4f4" font-family="'Liberation Sans', sans-serif" font-weight="700" font-size="7.6" textLength="11.7" lengthAdjust="spacingAndGlyphs">472</text>
<rect x="722.3" y="580.2" width="9" height="8" rx="1" fill="#b9b9b7"/>
<rect x="744.6" y="572.9" width="10" height="8" rx="1" fill="#c2c2c0"/>
<rect x="744.6" y="587.5" width="10" height="8" rx="1" fill="#c2c2c0"/>
<rect x="729.3" y="571.4" width="17.300000000000068" height="25.600000000000023" rx="1" fill="#2b2c2f"/>
<text transform="translate(741.6 584.2) rotate(-90)" text-anchor="middle" fill="#55565a" font-family="'Liberation Sans', sans-serif" font-size="10">X6t</text>
<rect x="758.6" y="566.4" width="17.9" height="37.200000000000045" fill="none" stroke="#f4f7fa" stroke-width="1.9"/>
<rect x="761.9" y="569.6" width="11.299999999999999" height="30.600000000000044" rx="1.8" fill="#c4c3c1"/>
<rect x="762.4" y="569.6" width="10.299999999999999" height="3.4" rx="1.6" fill="#ecebea"/>
<rect x="761.9" y="595.6" width="11.299999999999999" height="4.6" rx="1.6" fill="#8f8e8c"/>
<rect x="761.9" y="578.1999999999999" width="11.299999999999999" height="12.600000000000044" fill="#202123"/>
<text transform="translate(770.5 584.5) rotate(-90)" text-anchor="middle" fill="#f4f4f4" font-family="'Liberation Sans', sans-serif" font-weight="700" font-size="7.6" textLength="11.7" lengthAdjust="spacingAndGlyphs">472</text>
<rect x="789.8" y="568" width="27" height="32.4" rx="1.2" fill="#5b6686"/>
<rect x="789.8" y="568" width="27" height="3" fill="#7f8aa8" opacity="0.8"/>
<rect x="796" y="598.6" width="15" height="2.6" fill="#30374d"/>
<circle cx="796.3" cy="592.4" r="1.9" fill="#2a2f3f"/>
<text transform="translate(806.5 572) rotate(90)" fill="#7d88a6" font-family="'Liberation Sans', sans-serif" font-size="6.5">F310</text>
<circle cx="817" cy="567" r="2.1" fill="#eef1f5"/>
<rect x="834.3" y="557" width="37.1" height="56" fill="none" stroke="#f4f7fa" stroke-width="1.8"/>
<rect x="879.3" y="557" width="37.1" height="56" fill="none" stroke="#f4f7fa" stroke-width="1.8"/>
<rect x="838.5999999999999" y="559.45" width="30.100000000000023" height="11.5" rx="1.5" fill="#c6c5c3"/>
<rect x="838.5999999999999" y="559.45" width="30.100000000000023" height="2.5" rx="1.2" fill="#e6e6e5"/>
<rect x="838.5999999999999" y="567.95" width="30.100000000000023" height="3" rx="1.2" fill="#9a9998"/>
<rect x="847.1999999999999" y="559.45" width="12.900000000000023" height="11.5" fill="#1f2022"/>
<text x="853.6" y="567.9" text-anchor="middle" fill="#f2f2f2" font-family="'Liberation Sans', sans-serif" font-weight="700" font-size="7.5">0</text>
<rect x="838.5999999999999" y="578.05" width="30.100000000000023" height="11.5" rx="1.5" fill="#c6c5c3"/>
<rect x="838.5999999999999" y="578.05" width="30.100000000000023" height="2.5" rx="1.2" fill="#e6e6e5"/>
<rect x="838.5999999999999" y="586.55" width="30.100000000000023" height="3" rx="1.2" fill="#9a9998"/>
<rect x="847.1999999999999" y="578.05" width="12.900000000000023" height="11.5" fill="#1f2022"/>
<text x="853.6" y="586.5" text-anchor="middle" fill="#f2f2f2" font-family="'Liberation Sans', sans-serif" font-weight="700" font-size="7.5">0</text>
<rect x="838.5999999999999" y="597.25" width="30.100000000000023" height="11.5" rx="1.5" fill="#c6c5c3"/>
<rect x="838.5999999999999" y="597.25" width="30.100000000000023" height="2.5" rx="1.2" fill="#e6e6e5"/>
<rect x="838.5999999999999" y="605.75" width="30.100000000000023" height="3" rx="1.2" fill="#9a9998"/>
<rect x="847.1999999999999" y="597.25" width="12.900000000000023" height="11.5" fill="#1f2022"/>
<text x="853.6" y="605.7" text-anchor="middle" fill="#f2f2f2" font-family="'Liberation Sans', sans-serif" font-weight="700" font-size="7.5">0</text>
<rect x="883.5999999999999" y="559.45" width="30.100000000000023" height="11.5" rx="1.5" fill="#c6c5c3"/>
<rect x="883.5999999999999" y="559.45" width="30.100000000000023" height="2.5" rx="1.2" fill="#e6e6e5"/>
<rect x="883.5999999999999" y="567.95" width="30.100000000000023" height="3" rx="1.2" fill="#9a9998"/>
<rect x="892.1999999999999" y="559.45" width="12.900000000000023" height="11.5" fill="#1f2022"/>
<text x="898.6" y="567.9" text-anchor="middle" fill="#f2f2f2" font-family="'Liberation Sans', sans-serif" font-weight="700" font-size="7.5">472</text>
<rect x="883.5999999999999" y="578.05" width="30.100000000000023" height="11.5" rx="1.5" fill="#c6c5c3"/>
<rect x="883.5999999999999" y="578.05" width="30.100000000000023" height="2.5" rx="1.2" fill="#e6e6e5"/>
<rect x="883.5999999999999" y="586.55" width="30.100000000000023" height="3" rx="1.2" fill="#9a9998"/>
<rect x="892.1999999999999" y="578.05" width="12.900000000000023" height="11.5" fill="#1f2022"/>
<text x="898.6" y="586.5" text-anchor="middle" fill="#f2f2f2" font-family="'Liberation Sans', sans-serif" font-weight="700" font-size="7.5">0</text>
<rect x="883.5999999999999" y="597.25" width="30.100000000000023" height="11.5" rx="1.5" fill="#c6c5c3"/>
<rect x="883.5999999999999" y="597.25" width="30.100000000000023" height="2.5" rx="1.2" fill="#e6e6e5"/>
<rect x="883.5999999999999" y="605.75" width="30.100000000000023" height="3" rx="1.2" fill="#9a9998"/>
<rect x="892.1999999999999" y="597.25" width="12.900000000000023" height="11.5" fill="#1f2022"/>
<text x="898.6" y="605.7" text-anchor="middle" fill="#f2f2f2" font-family="'Liberation Sans', sans-serif" font-weight="700" font-size="7.5">0</text>
<rect x="700.7" y="614.3" width="17.9" height="37.700000000000045" fill="none" stroke="#f4f7fa" stroke-width="1.9"/>
<rect x="704.0" y="617.5" width="11.299999999999999" height="31.100000000000044" rx="1.8" fill="#c4c3c1"/>
<rect x="704.5" y="617.5" width="10.299999999999999" height="3.4" rx="1.6" fill="#ecebea"/>
<rect x="704.0" y="644" width="11.299999999999999" height="4.6" rx="1.6" fill="#8f8e8c"/>
<rect x="704.0" y="626.0999999999999" width="11.299999999999999" height="13.100000000000044" fill="#202123"/>
<text transform="translate(712.6 632.6) rotate(-90)" text-anchor="middle" fill="#f4f4f4" font-family="'Liberation Sans', sans-serif" font-weight="700" font-size="7.6" textLength="11.7" lengthAdjust="spacingAndGlyphs">472</text>
<rect x="722.3" y="628.85" width="9" height="8" rx="1" fill="#b9b9b7"/>
<rect x="744.6" y="621.5" width="10" height="8" rx="1" fill="#c2c2c0"/>
<rect x="744.6" y="636.2" width="10" height="8" rx="1" fill="#c2c2c0"/>
<rect x="729.3" y="620" width="17.300000000000068" height="25.700000000000045" rx="1" fill="#2b2c2f"/>
<text transform="translate(741.6 632.9) rotate(-90)" text-anchor="middle" fill="#55565a" font-family="'Liberation Sans', sans-serif" font-size="10">X6t</text>
<rect x="758.6" y="614.3" width="17.9" height="37.700000000000045" fill="none" stroke="#f4f7fa" stroke-width="1.9"/>
<rect x="761.9" y="617.5" width="11.299999999999999" height="31.100000000000044" rx="1.8" fill="#c4c3c1"/>
<rect x="762.4" y="617.5" width="10.299999999999999" height="3.4" rx="1.6" fill="#ecebea"/>
<rect x="761.9" y="644" width="11.299999999999999" height="4.6" rx="1.6" fill="#8f8e8c"/>
<rect x="761.9" y="626.0999999999999" width="11.299999999999999" height="13.100000000000044" fill="#202123"/>
<text transform="translate(770.5 632.6) rotate(-90)" text-anchor="middle" fill="#f4f4f4" font-family="'Liberation Sans', sans-serif" font-weight="700" font-size="7.6" textLength="11.7" lengthAdjust="spacingAndGlyphs">472</text>
<rect x="784.3" y="614.3" width="17.4" height="37.700000000000045" fill="none" stroke="#f4f7fa" stroke-width="1.9"/>
<rect x="787.5999999999999" y="617.5" width="10.799999999999999" height="31.100000000000044" rx="1.8" fill="#c4c3c1"/>
<rect x="788.0999999999999" y="617.5" width="9.799999999999999" height="3.4" rx="1.6" fill="#ecebea"/>
<rect x="787.5999999999999" y="644" width="10.799999999999999" height="4.6" rx="1.6" fill="#8f8e8c"/>
<rect x="787.5999999999999" y="626.0999999999999" width="10.799999999999999" height="13.100000000000044" fill="#202123"/>
<text transform="translate(795.9 632.6) rotate(-90)" text-anchor="middle" fill="#f4f4f4" font-family="'Liberation Sans', sans-serif" font-weight="700" font-size="7.6" textLength="3.9" lengthAdjust="spacingAndGlyphs">0</text>
<rect x="805.3" y="614.3" width="18" height="37.700000000000045" fill="none" stroke="#f4f7fa" stroke-width="1.9"/>
<rect x="808.5999999999999" y="617.5" width="11.4" height="31.100000000000044" rx="1.8" fill="#c4c3c1"/>
<rect x="809.0999999999999" y="617.5" width="10.4" height="3.4" rx="1.6" fill="#ecebea"/>
<rect x="808.5999999999999" y="644" width="11.4" height="4.6" rx="1.6" fill="#8f8e8c"/>
<rect x="808.5999999999999" y="626.0999999999999" width="11.4" height="13.100000000000044" fill="#202123"/>
<text transform="translate(817.2 632.6) rotate(-90)" text-anchor="middle" fill="#f4f4f4" font-family="'Liberation Sans', sans-serif" font-weight="700" font-size="7.6" textLength="11.7" lengthAdjust="spacingAndGlyphs">010</text>
<rect x="834.3" y="614.3" width="18.4" height="37.700000000000045" fill="none" stroke="#f4f7fa" stroke-width="1.9"/>
<rect x="837.5999999999999" y="617.5" width="11.799999999999999" height="31.100000000000044" rx="1.8" fill="#c4c3c1"/>
<rect x="838.0999999999999" y="617.5" width="10.799999999999999" height="3.4" rx="1.6" fill="#ecebea"/>
<rect x="837.5999999999999" y="644" width="11.799999999999999" height="4.6" rx="1.6" fill="#8f8e8c"/>
<rect x="837.5999999999999" y="626.0999999999999" width="11.799999999999999" height="13.100000000000044" fill="#202123"/>
<text transform="translate(846.4 632.6) rotate(-90)" text-anchor="middle" fill="#f4f4f4" font-family="'Liberation Sans', sans-serif" font-weight="700" font-size="7.6" textLength="3.9" lengthAdjust="spacingAndGlyphs">0</text>
<rect x="931.4" y="491.4" width="54.4" height="188" fill="none" stroke="#f4f7fa" stroke-width="1.9"/>
<line x1="955" y1="491.4" x2="955" y2="679.4" stroke="#f4f7fa" stroke-width="1.9"/>
<line x1="931.4" y1="523" x2="955" y2="523" stroke="#f4f7fa" stroke-width="1.9"/>
<line x1="931.4" y1="552" x2="955" y2="552" stroke="#f4f7fa" stroke-width="1.9"/>
<line x1="931.4" y1="586" x2="955" y2="586" stroke="#f4f7fa" stroke-width="1.9"/>
<line x1="931.4" y1="617" x2="955" y2="617" stroke="#f4f7fa" stroke-width="1.9"/>
<line x1="931.4" y1="649.3" x2="955" y2="649.3" stroke="#f4f7fa" stroke-width="1.9"/>
<text transform="translate(950.3 520.7) rotate(-90)" fill="#f4f7fa" stroke="#f4f7fa" stroke-width="0.6" font-family="'Liberation Sans', sans-serif" font-weight="700" font-size="17.4" textLength="27" lengthAdjust="spacingAndGlyphs">3V3</text>
<text transform="translate(950.3 550.2) rotate(-90)" fill="#f4f7fa" stroke="#f4f7fa" stroke-width="0.6" font-family="'Liberation Sans', sans-serif" font-weight="700" font-size="17.4" textLength="25.5" lengthAdjust="spacingAndGlyphs">SDI</text>
<text transform="translate(950.3 583.2) rotate(-90)" fill="#f4f7fa" stroke="#f4f7fa" stroke-width="0.6" font-family="'Liberation Sans', sans-serif" font-weight="700" font-size="17.4" textLength="28.5" lengthAdjust="spacingAndGlyphs">GND</text>
<text transform="translate(950.3 615.2) rotate(-90)" fill="#f4f7fa" stroke="#f4f7fa" stroke-width="0.6" font-family="'Liberation Sans', sans-serif" font-weight="700" font-size="17.4" textLength="27.5" lengthAdjust="spacingAndGlyphs">SDO</text>
<text transform="translate(950.3 646.9) rotate(-90)" fill="#f4f7fa" stroke="#f4f7fa" stroke-width="0.6" font-family="'Liberation Sans', sans-serif" font-weight="700" font-size="17.4" textLength="27.5" lengthAdjust="spacingAndGlyphs">CSK</text>
<text transform="translate(950.3 673.8) rotate(-90)" fill="#f4f7fa" stroke="#f4f7fa" stroke-width="0.6" font-family="'Liberation Sans', sans-serif" font-weight="700" font-size="17.4" textLength="19" lengthAdjust="spacingAndGlyphs">CS</text>
<rect x="960.9" y="495.20000000000005" width="20.8" height="20.8" rx="1" fill="#93827c" stroke="#1b4f88" stroke-width="0.8"/>
<circle cx="971.4" cy="505.6" r="7" fill="#fdfdfd"/>
<circle cx="971.4" cy="536.75" r="10.4" fill="#9f8172" stroke="#1b4f88" stroke-width="1"/>
<circle cx="971.4" cy="536.75" r="8.4" fill="none" stroke="#b99c8c" stroke-width="1.2"/>
<circle cx="971.4" cy="536.75" r="7" fill="#fdfdfd"/>
<circle cx="971.4" cy="567.9" r="10.4" fill="#9f8172" stroke="#1b4f88" stroke-width="1"/>
<circle cx="971.4" cy="567.9" r="8.4" fill="none" stroke="#b99c8c" stroke-width="1.2"/>
<circle cx="971.4" cy="567.9" r="7" fill="#fdfdfd"/>
<circle cx="971.4" cy="599.05" r="10.4" fill="#9f8172" stroke="#1b4f88" stroke-width="1"/>
<circle cx="971.4" cy="599.05" r="8.4" fill="none" stroke="#b99c8c" stroke-width="1.2"/>
<circle cx="971.4" cy="599.05" r="7" fill="#fdfdfd"/>
<circle cx="971.4" cy="630.2" r="10.4" fill="#9f8172" stroke="#1b4f88" stroke-width="1"/>
<circle cx="971.4" cy="630.2" r="8.4" fill="none" stroke="#b99c8c" stroke-width="1.2"/>
<circle cx="971.4" cy="630.2" r="7" fill="#fdfdfd"/>
<circle cx="971.4" cy="661.35" r="10.4" fill="#9f8172" stroke="#1b4f88" stroke-width="1"/>
<circle cx="971.4" cy="661.35" r="8.4" fill="none" stroke="#b99c8c" stroke-width="1.2"/>
<circle cx="971.4" cy="661.35" r="7" fill="#fdfdfd"/>
</g>
</svg>
</body></html>
